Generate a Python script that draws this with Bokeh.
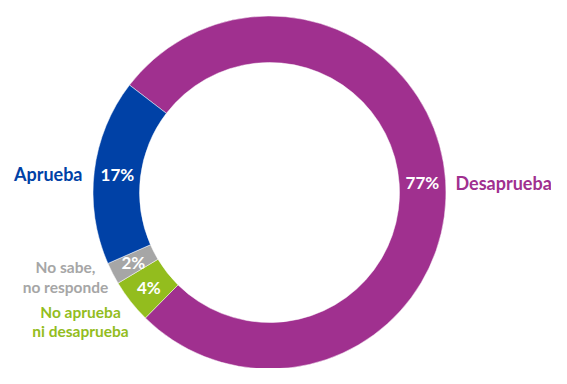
import math
from bokeh.plotting import figure
from bokeh.models import Range1d, ColumnDataSource
from bokeh.core.properties import value
from bokeh.embed import file_html
from bokeh.resources import INLINE

# ---- data ----
categories = ["Desaprueba", "No aprueba ni desaprueba", "No sabe, no responde", "Aprueba"]
values = [77, 4, 2, 17]
pct_labels = ["77%", "4%", "2%", "17%"]
colors = ["#A0308F", "#93BD1E", "#A6A6A6", "#0041A6"]

# ---- layout ----
W, H = 551, 368
CX, CY = 276, 192
R_OUT, R_IN = 176.5, 130
START = 142.5  # degrees, slices go clockwise
FONT = "Lato"
XOFF = 7

total = sum(values)
starts, ends, mids = [], [], []
a = START
for v in values:
    span = 360.0 * v / total
    starts.append(math.radians(a))
    ends.append(math.radians(a - span))
    mids.append(math.radians(a - span / 2))
    a -= span

src = ColumnDataSource(dict(cat=categories, val=values, s=starts, e=ends, color=colors))

p = figure(width=W, height=H, output_backend="svg", toolbar_location=None,
           x_range=Range1d(XOFF, XOFF + W), y_range=Range1d(384 - H, 384),
           min_border=0, outline_line_color=None)
p.axis.visible = False
p.grid.visible = False
p.background_fill_color = "white"

p.annular_wedge(x=CX, y=CY, inner_radius=R_IN, outer_radius=R_OUT,
                start_angle="s", end_angle="e", direction="clock",
                color="color", line_color="white", line_width=0.5, source=src)

# percentage labels inside ring
rm = (R_IN + R_OUT) / 2
lx = [CX + rm * math.cos(m) for m in mids]
ly = [CY + rm * math.sin(m) for m in mids]
p.text(x=lx, y=ly, text=pct_labels, text_color="white", text_font=value(FONT),
       text_font_style="bold", text_font_size="17px", text_align="center",
       text_baseline="middle")

# category labels outside
p.text(x=[462], y=[202], text=["Desaprueba"], text_color=colors[0], text_font=value(FONT),
       text_font_style="bold", text_font_size="18px", text_align="left", text_baseline="middle")
p.text(x=[89], y=[211], text=["Aprueba"], text_color=colors[3], text_font=value(FONT),
       text_font_style="bold", text_font_size="18px", text_align="right", text_baseline="middle")
p.text(x=[72, 72], y=[118, 98], text=["No sabe,", "no responde"], text_color=colors[2],
       text_font=value(FONT), text_font_style="bold", text_font_size="15.5px",
       text_align="center", text_baseline="middle")
p.text(x=[87, 87], y=[73, 54], text=["No aprueba", "ni desaprueba"], text_color=colors[1],
       text_font=value(FONT), text_font_style="bold", text_font_size="15.5px",
       text_align="center", text_baseline="middle")

open("out.html", "w").write(file_html(p, INLINE))
